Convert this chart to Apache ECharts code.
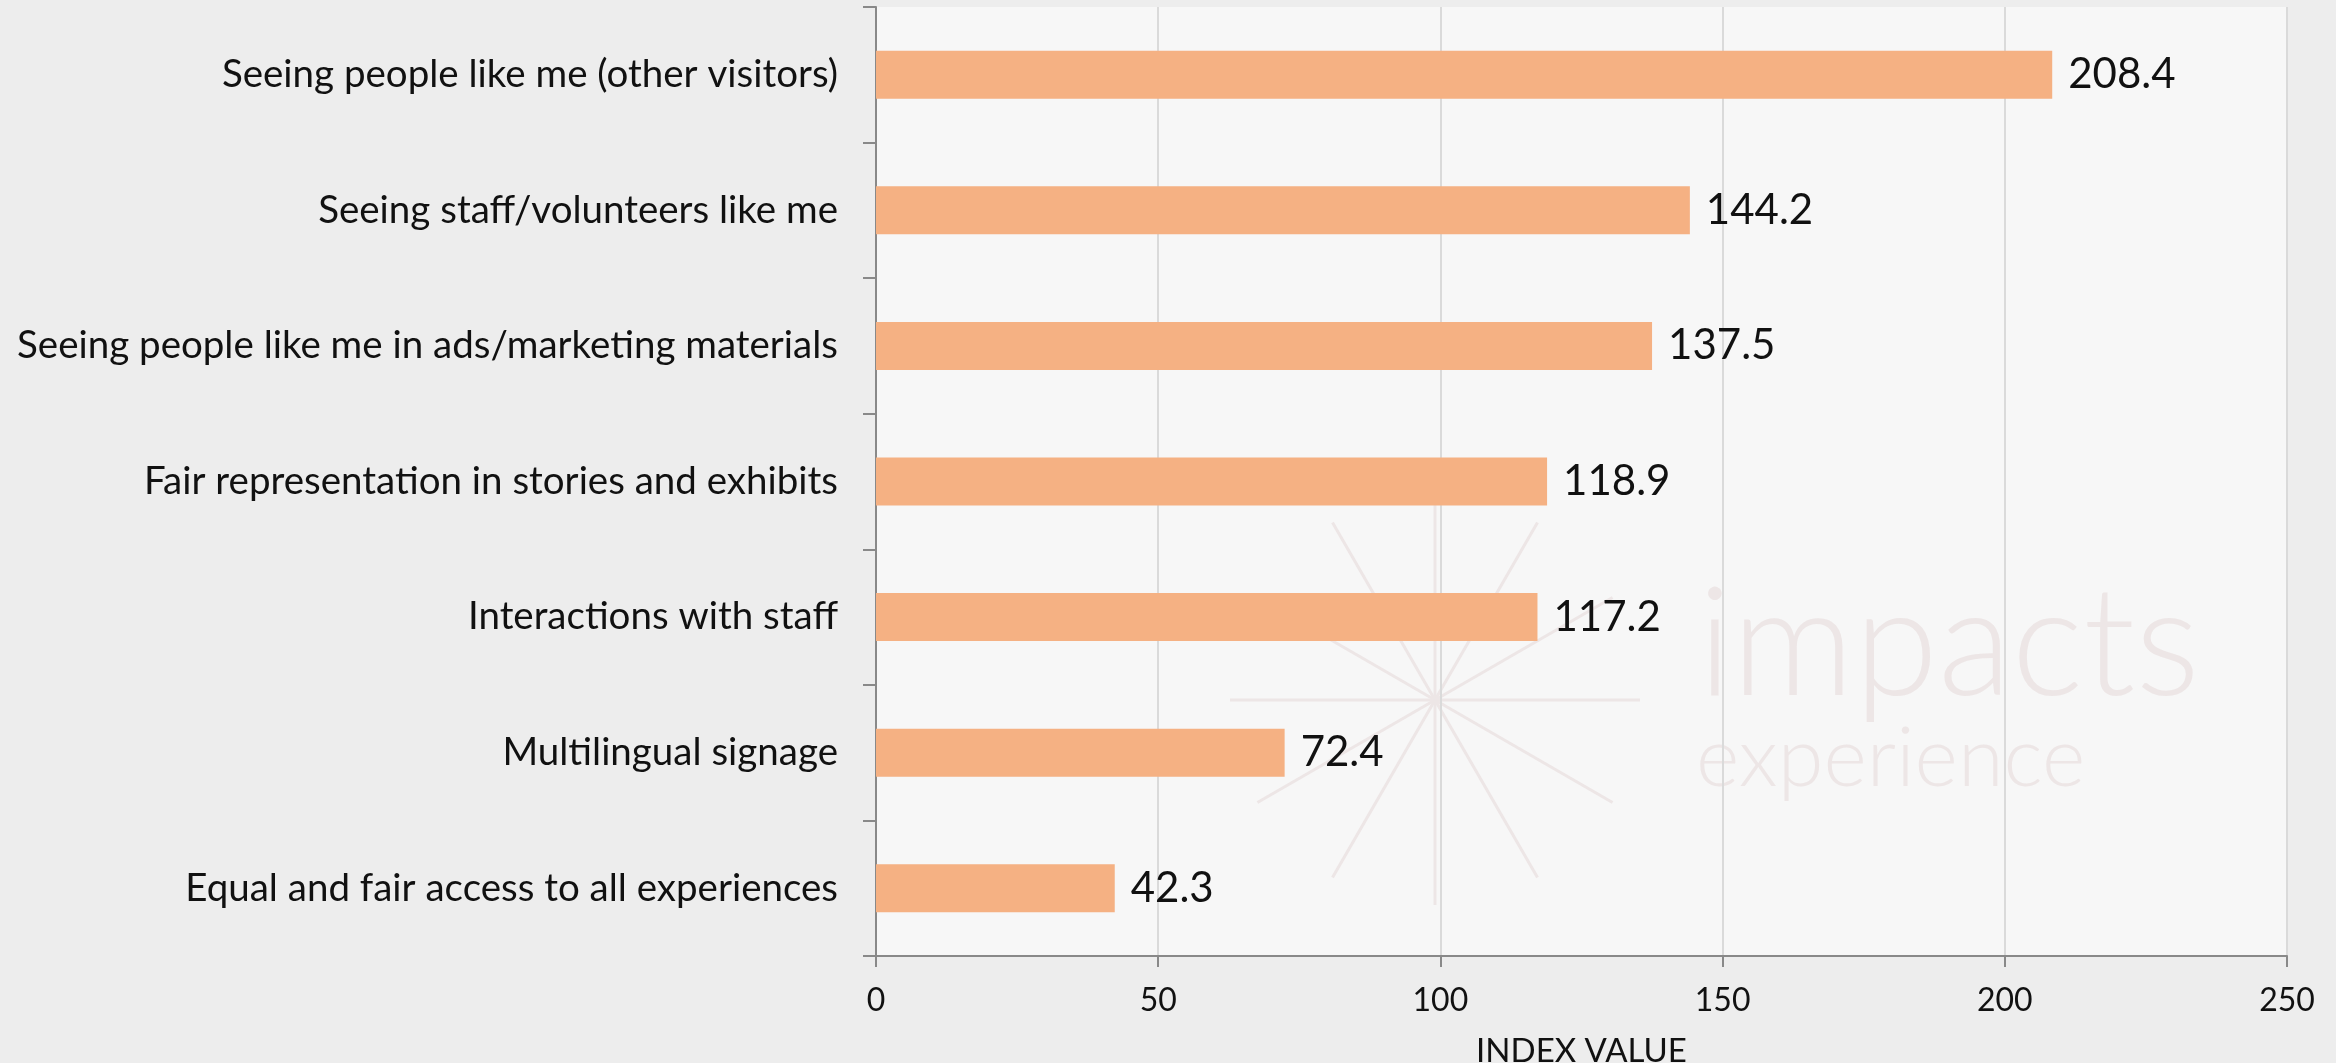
<!DOCTYPE html>
<html>
<head>
<meta charset="utf-8">
<script src="https://cdn.jsdelivr.net/npm/echarts@6/dist/echarts.min.js"></script>
<style>
  html, body { margin: 0; padding: 0; background: #ededed; }
  #chart { width: 2336px; height: 1063px; }
</style>
</head>
<body>
<div id="chart"></div>
<script>
// Drivers of feeling welcome, as index values (100 = average)
const categories = [
  'Seeing people like me (other visitors)',
  'Seeing staff/volunteers like me',
  'Seeing people like me in ads/marketing materials',
  'Fair representation in stories and exhibits',
  'Interactions with staff',
  'Multilingual signage',
  'Equal and fair access to all experiences'
];
const indexValues = [208.4, 144.2, 137.5, 118.9, 117.2, 72.4, 42.3];
const xTicks = [0, 50, 100, 150, 200, 250];

const FONT = 'Lato, "Noto Sans", sans-serif';
const plot = { left: 876, top: 7, right: 49, bottom: 107 };
const W = 2336, H = 1063;
const plotW = W - plot.left - plot.right;
const plotH = H - plot.top - plot.bottom;

// Faint starburst logo mark (12 spokes, every 30 degrees)
const star = { cx: 1435, cy: 700, r: 205 };
const spokes = [];
for (let a = 0; a < 360; a += 30) {
  const rad = a * Math.PI / 180;
  spokes.push({
    type: 'line', z: -5,
    shape: { x1: star.cx, y1: star.cy, x2: star.cx + star.r * Math.cos(rad), y2: star.cy + star.r * Math.sin(rad) },
    style: { stroke: '#ede6e6', lineWidth: 3 },
    silent: true
  });
}

const chart = echarts.init(document.getElementById('chart'), null, { renderer: 'canvas' });
chart.setOption({
  backgroundColor: '#ededed',
  animation: false,
  grid: {
    left: plot.left, top: plot.top, right: plot.right, bottom: plot.bottom,
    show: false, containLabel: false, outerBoundsMode: 'none'
  },
  graphic: [
    { type: 'rect', z: -10, shape: { x: plot.left, y: plot.top, width: plotW, height: plotH }, style: { fill: '#f7f7f7' }, silent: true },
    ...spokes,
    { type: 'text', z: -5, left: 1698, top: 570, silent: true,
      style: { text: 'impacts', font: '300 152px ' + FONT, fill: '#ede6e6' } },
    { type: 'text', z: -5, left: 1696, top: 718, silent: true,
      style: { text: 'experience', font: '300 83px ' + FONT, fill: '#ede6e6' } }
  ],
  xAxis: {
    type: 'value',
    min: xTicks[0],
    max: xTicks[xTicks.length - 1],
    interval: 50,
    name: 'INDEX VALUE',
    nameLocation: 'middle',
    nameGap: 79,
    nameTextStyle: { fontFamily: FONT, fontSize: 33, color: '#111' },
    axisLine: { show: true, lineStyle: { color: '#898989', width: 2 } },
    axisTick: { show: true, length: 11, lineStyle: { color: '#898989', width: 2 } },
    axisLabel: { fontFamily: FONT, fontSize: 32, color: '#111', margin: 29 },
    splitLine: { show: true, lineStyle: { color: '#dadada', width: 2 } }
  },
  yAxis: {
    type: 'category',
    data: categories,
    inverse: true,
    axisLine: { show: true, lineStyle: { color: '#898989', width: 2 } },
    axisTick: { show: true, length: 13, lineStyle: { color: '#898989', width: 2 } },
    axisLabel: { fontFamily: FONT, fontSize: 38.5, color: '#111', margin: 38 },
    splitLine: { show: false }
  },
  series: [{
    type: 'bar',
    data: indexValues,
    barWidth: 48,
    itemStyle: { color: '#f5b183' },
    label: {
      show: true,
      position: 'right',
      distance: 16,
      fontFamily: FONT,
      fontSize: 42,
      color: '#111',
      formatter: p => p.value.toFixed(1)
    }
  }]
});
</script>
</body>
</html>
